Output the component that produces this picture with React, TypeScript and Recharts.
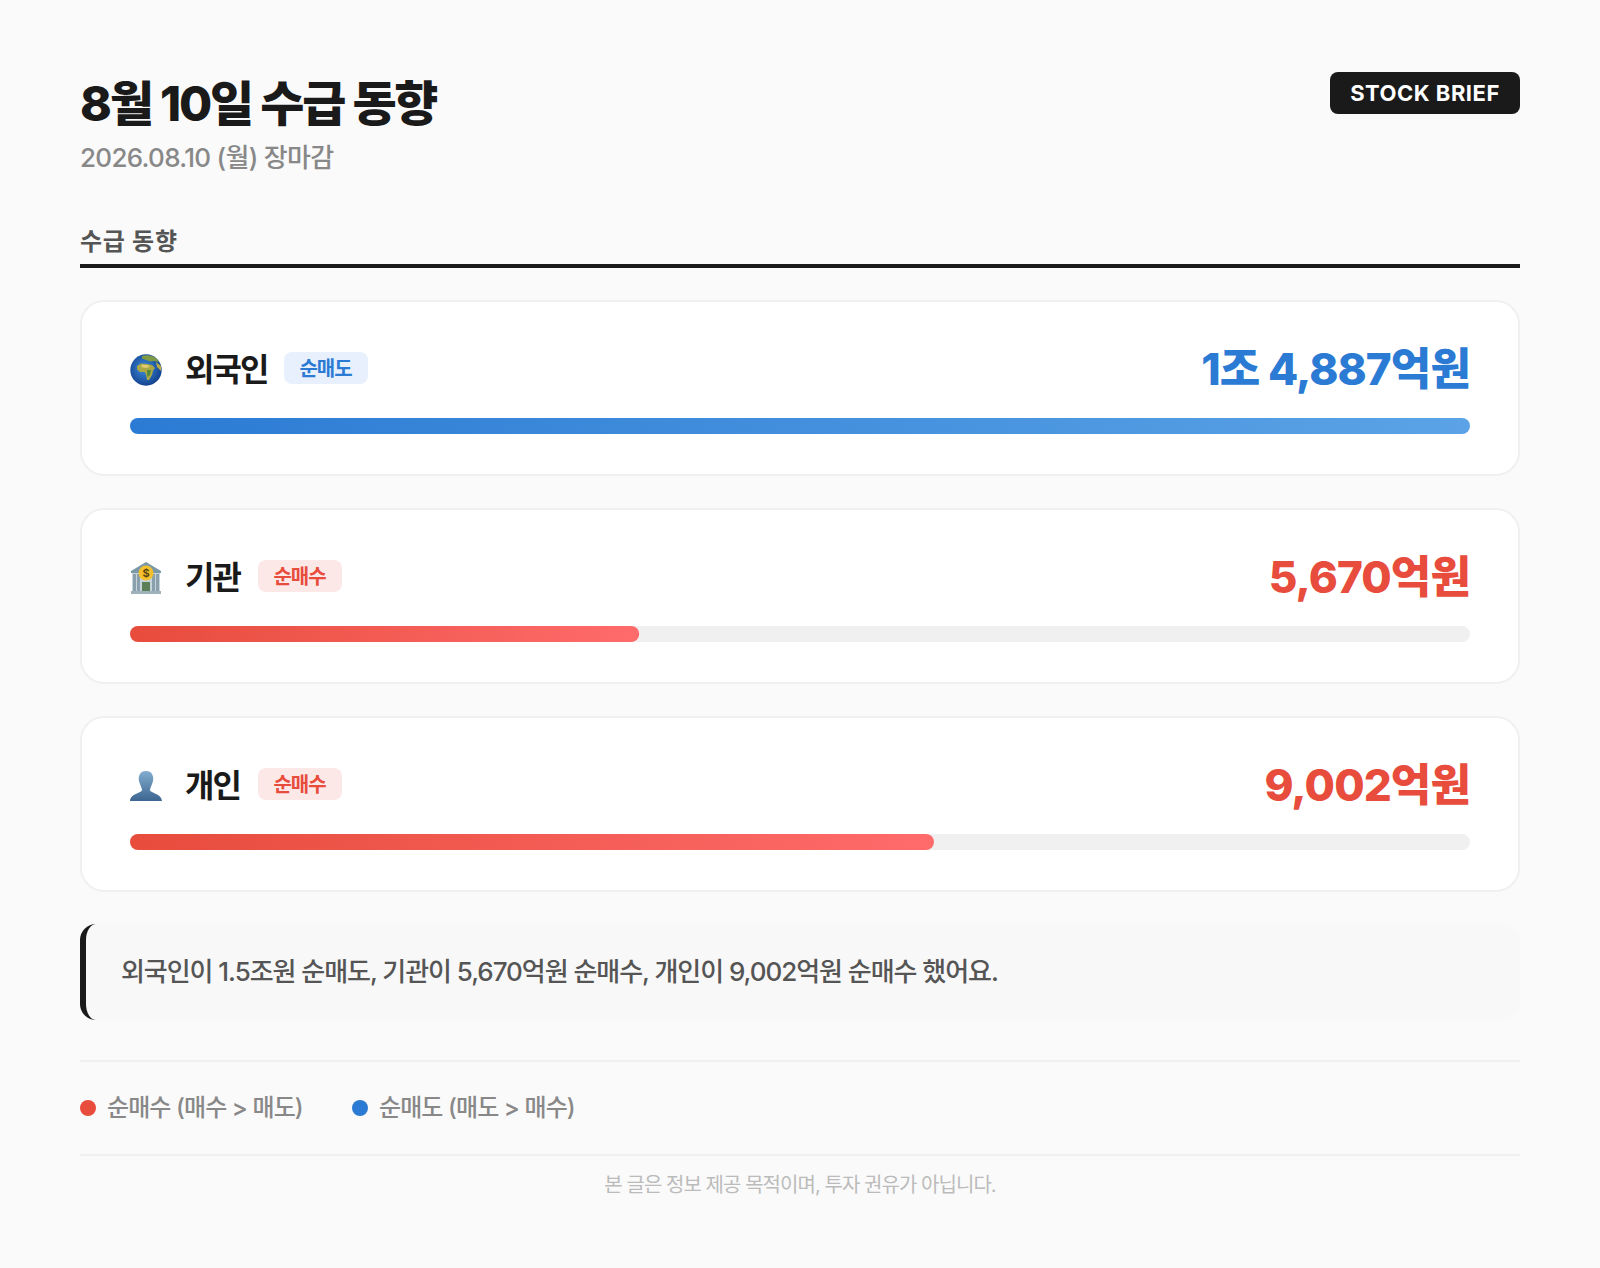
import React from 'react';
import { BarChart, Bar, XAxis, YAxis } from 'recharts';

const names = ['외국인', '기관', '개인'];
const tags = ['순매도', '순매수', '순매수'];
const amountLabels = ['1조 4,887억원', '5,670억원', '9,002억원'];
const barPercents = [100, 38, 60];
const kinds = ['sell', 'buy', 'buy'];

const FONT = 'Inter, "Noto Sans CJK KR", sans-serif';
const PALETTE: Record<string, { main: string; end: string; soft: string }> = {
  sell: { main: '#2b7bd4', end: '#5ba3e6', soft: '#e8f0fe' },
  buy: { main: '#e74c3c', end: '#ff6b6b', soft: '#fde8e8' },
};

const text = (left: number, top: number, size: number, weight: number, color: string, extra?: React.CSSProperties): React.CSSProperties => ({
  position: 'absolute', left, top, fontSize: size, fontWeight: weight, color, lineHeight: 1.2, whiteSpace: 'nowrap', ...extra,
});

const GlobeIcon = () => (
  <svg width={32} height={32} viewBox="0 0 32 32">
    <defs>
      <radialGradient id="sea" cx="45%" cy="45%" r="62%">
        <stop offset="0%" stopColor="#3d8fe0" />
        <stop offset="100%" stopColor="#0f3a85" />
      </radialGradient>
    </defs>
    <circle cx={16} cy={16} r={15.7} fill="url(#sea)" />
    {/* europe */}
    <path d="M12 2 C17 0.5,23 1.5,27 5 L28.5 8 L24 7 L20 7.5 L16 6 L12 4.5 Z" fill="#7f9a45" />
    {/* africa */}
    <path d="M7 12 L11 9.5 L17 10 L22 11 L25 14 L23 16.5 L22 21 L19 26 L17 26 L16 20.5 L14.5 18 L10 18 L7 15.5 Z" fill="#a9a845" />
    <path d="M12 10.5 L18 11 L20 13 L15.5 14 L11 13 Z" fill="#e0c96e" />
    <path d="M17 16 L21 16 L20 21 L17.5 23 Z" fill="#4f8a3c" />
    <path d="M26 8 L31 12 L31 17 L27 13 Z" fill="#b7ab46" />
  </svg>
);

const BankIcon = () => (
  <svg width={32} height={32} viewBox="0 0 32 32">
    <path d="M16 0 L31 9 L31 11 L1 11 L1 9 Z" fill="#7b98a6" />
    <rect x={2} y={11} width={28} height={18} fill="#c6d3da" />
    {[3, 7, 22, 26].map((x) => <rect key={x} x={x} y={12} width={3} height={17} fill="#8aa1ad" />)}
    <rect x={12} y={20} width={8} height={9} fill="#5c7f57" />
    <rect x={1} y={29} width={30} height={3} fill="#9fb2bc" />
    <circle cx={16} cy={11} r={7.5} fill="#f5c02e" />
    <text x={16} y={15} fontSize={11} fontWeight={700} textAnchor="middle" fill="#5b4510" fontFamily={FONT}>$</text>
  </svg>
);

const PersonIcon = () => (
  <svg width={32} height={32} viewBox="0 0 32 32">
    <defs>
      <linearGradient id="bust" x1="0" y1="0" x2="0" y2="1">
        <stop offset="0%" stopColor="#83acd0" />
        <stop offset="100%" stopColor="#3c6690" />
      </linearGradient>
    </defs>
    <path d="M16 1 C22 1,24 6,23 11 C22 15,20 18,20 20 C20 23,31 23,32 31 L0 31 C1 23,12 23,12 20 C12 18,10 15,9 11 C8 6,10 1,16 1 Z" fill="url(#bust)" />
  </svg>
);

const icons = [<GlobeIcon key="g" />, <BankIcon key="b" />, <PersonIcon key="p" />];

function FlowBar({ index }: { index: number }) {
  const pal = PALETTE[kinds[index]];
  const gid = `flow-${index}`;
  return (
    <BarChart
      width={1340}
      height={16}
      layout="vertical"
      data={[{ name: names[index], pct: barPercents[index] }]}
      margin={{ top: 0, right: 0, bottom: 0, left: 0 }}
      barCategoryGap={0}
    >
      <defs>
        <linearGradient id={gid} x1="0" y1="0" x2="1" y2="0">
          <stop offset="0%" stopColor={pal.main} />
          <stop offset="100%" stopColor={pal.end} />
        </linearGradient>
      </defs>
      <XAxis type="number" domain={[0, 100]} hide />
      <YAxis type="category" dataKey="name" hide />
      <Bar dataKey="pct" fill={`url(#${gid})`} radius={8} background={{ fill: '#f0f0f0', radius: 8 }} isAnimationActive={false} />
    </BarChart>
  );
}

function FlowCard({ index }: { index: number }) {
  const pal = PALETTE[kinds[index]];
  const top = 300 + index * 208;
  const nameWidths = [82, 56, 56];
  return (
    <div style={{ position: 'absolute', left: 80, top, width: 1440, height: 176, boxSizing: 'border-box', background: '#fff', border: '2px solid #f0f0f0', borderRadius: 24 }}>
      <div style={{ position: 'absolute', left: 48, top: 52, width: 32, height: 32 }}>{icons[index]}</div>
      <div style={text(103, 49, 32, 700, '#1a1a1a', { letterSpacing: -1.9 })}>{names[index]}</div>
      <div style={{ position: 'absolute', left: 104 + nameWidths[index] + 16, top: 50, width: 84, height: 32, background: pal.soft, borderRadius: 8, textAlign: 'center', lineHeight: '34px', fontSize: 20, fontWeight: 700, letterSpacing: -1, textIndent: -1, color: pal.main }}>{tags[index]}</div>
      <div style={text(0, 41, 44, 800, pal.main, { left: 'auto', right: 48, letterSpacing: -0.9 })}>{amountLabels[index]}</div>
      <div style={{ position: 'absolute', left: 48, top: 116 }}>
        <FlowBar index={index} />
      </div>
    </div>
  );
}

export default function App() {
  return (
    <div style={{ position: 'relative', width: 1600, height: 1268, background: '#fafafa', fontFamily: FONT, overflow: 'hidden' }}>
      <style>{'body{margin:0}'}</style>
      <div style={text(80, 75, 48, 800, '#1a1a1a', { letterSpacing: -2.2 })}>8월 10일 수급 동향</div>
      <div style={text(80, 142, 26, 500, '#888888', { letterSpacing: -0.7 })}>2026.08.10 (월) 장마감</div>
      <div style={{ position: 'absolute', left: 1330, top: 72, width: 190, height: 42, background: '#1a1a1a', borderRadius: 8, color: '#fff', fontSize: 22, fontWeight: 700, letterSpacing: 0.5, textAlign: 'center', lineHeight: '42px' }}>STOCK BRIEF</div>
      <div style={text(80, 228, 24, 700, '#555555', { letterSpacing: 0.75 })}>수급 동향</div>
      <div style={{ position: 'absolute', left: 80, top: 264, width: 1440, height: 4, background: '#1a1a1a' }} />
      {names.map((n, i) => <FlowCard key={n} index={i} />)}
      <div style={{ position: 'absolute', left: 80, top: 924, width: 1440, height: 96, boxSizing: 'border-box', background: '#f8f8f8', borderLeft: '6px solid #1a1a1a', borderRadius: 16 }}>
        <div style={text(35, 32, 26, 500, '#555555', { letterSpacing: -1.05 })}>외국인이 1.5조원 순매도, 기관이 5,670억원 순매수, 개인이 9,002억원 순매수 했어요.</div>
      </div>
      <div style={{ position: 'absolute', left: 80, top: 1060, width: 1440, height: 2, background: '#f0f0f0' }} />
      <div style={{ position: 'absolute', left: 80, top: 1100, width: 16, height: 16, borderRadius: 8, background: PALETTE.buy.main }} />
      <div style={text(107, 1094, 24, 500, '#888888', { letterSpacing: -0.9 })}>순매수 (매수 &gt; 매도)</div>
      <div style={{ position: 'absolute', left: 352, top: 1100, width: 16, height: 16, borderRadius: 8, background: PALETTE.sell.main }} />
      <div style={text(379, 1094, 24, 500, '#888888', { letterSpacing: -0.9 })}>순매도 (매도 &gt; 매수)</div>
      <div style={{ position: 'absolute', left: 80, top: 1154, width: 1440, height: 2, background: '#f0f0f0' }} />
      <div style={text(0, 1173, 20, 400, '#bbbbbb', { width: 1600, textAlign: 'center', letterSpacing: -0.95 })}>본 글은 정보 제공 목적이며, 투자 권유가 아닙니다.</div>
    </div>
  );
}
